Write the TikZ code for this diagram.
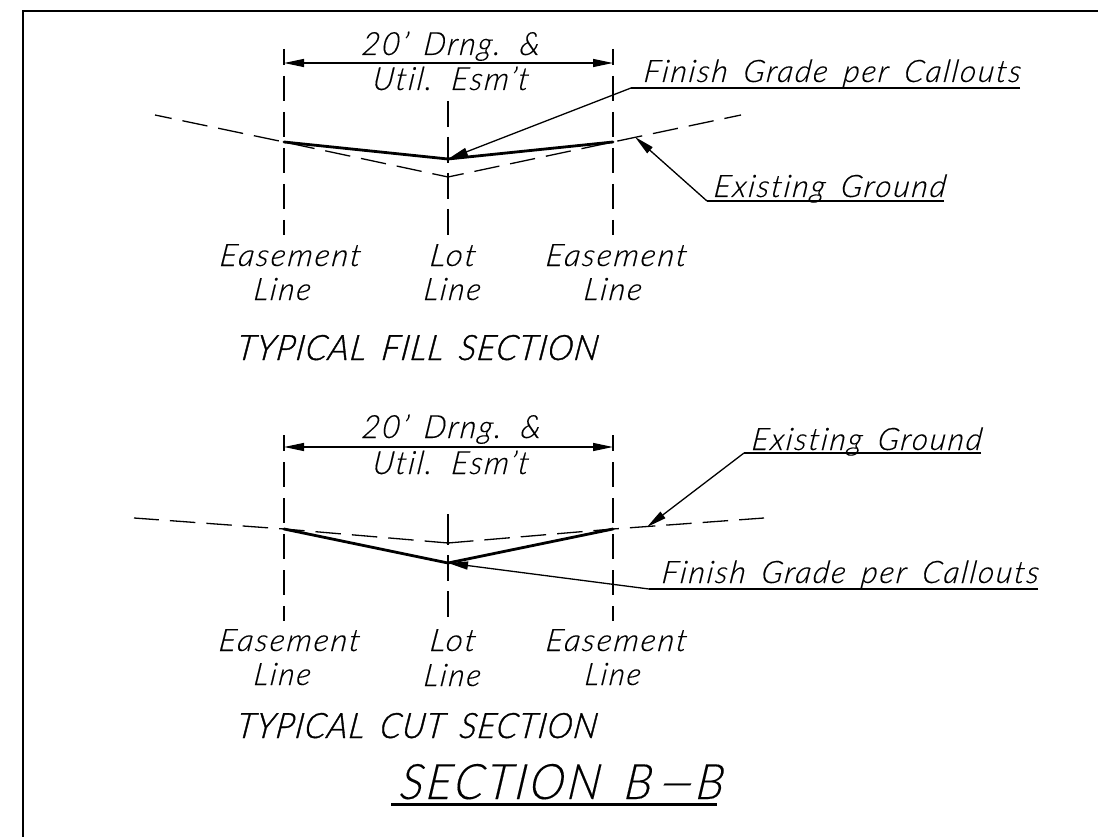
\documentclass[tikz,border=0pt]{standalone}
\usepackage{fontspec}
\setmainfont[LetterSpace=6,WordSpace=1.6,Ligatures=NoCommon,ItalicFeatures={FakeSlant=0.12,FakeBold=0.25}]{Lato Light}
\newfontfamily\cadheavy[LetterSpace=3,WordSpace=1.6,Ligatures=NoCommon,ItalicFeatures={FakeSlant=0.14,FakeBold=1}]{Lato Light}
\usetikzlibrary{arrows.meta}
\tikzset{
  x=1pt,y=-1pt,
  frameline/.style={line width=2.4pt},
  finish/.style={line width=2.8pt,line cap=round,line join=round},
  uline/.style={line width=1.4pt},
  lead/.style={line width=1.3pt,-{Triangle[length=20pt,width=8pt]}},
  dim/.style={line width=1.3pt,{Triangle[length=20pt,width=8pt]}-{Triangle[length=20pt,width=8pt]}},
  gridline/.style={line width=1.3pt,dash pattern=on 25pt off 11pt,dash phase=9pt},
  lotline/.style={line width=2.2pt,dash pattern=on 26pt off 10pt},
  lotsolid/.style={line width=2.2pt},
  ground/.style={line width=1.3pt,dash pattern=on 25.5pt off 11pt},
  groundA/.style={ground,dash phase=8.5pt},
  groundB/.style={ground,dash phase=0.5pt},
  titleunder/.style={line width=3pt},
}
\newcommand{\cadtext}[6]{%
  \pgfmathsetmacro{\cadw}{#3-#2}%
  \node[anchor=base west,inner sep=0pt,outer sep=0pt] (#1) at (#2,#4)
    {\fontsize{#5}{#5}\selectfont\resizebox{\cadw pt}{\height}{\itshape #6}};}
\begin{document}
\begin{tikzpicture}
\useasboundingbox (0,0) rectangle (1098,837);
\coordinate (fbl) at (23,837); \coordinate (ftl) at (23,11); \coordinate (ftr) at (1098,11);
\draw[frameline] (fbl) -- (ftl) -- (ftr);
% ---- fill section
\coordinate (aL0) at (155,115); \coordinate (aL) at (284,142); \coordinate (aCg) at (448,177);
\coordinate (aR) at (613,142); \coordinate (aR0) at (741,115); \coordinate (aC) at (448,159);
\coordinate (aLt) at (284,49); \coordinate (aRt) at (613,49);
\coordinate (aLb) at (284,235); \coordinate (aRb) at (613,235);
\coordinate (aCt) at (448,101); \coordinate (aCb) at (448,235);
\coordinate (aDl) at (284,63); \coordinate (aDr) at (613,63);
\draw[gridline] (aLt) -- (aLb);
\draw[gridline] (aRt) -- (aRb);
\draw[lotline] (aCt) -- (aCb);
\draw[groundA] (aL0) -- (aL) -- (aCg);
\draw[groundA] (aR0) -- (aR) -- (aCg);
\draw[finish] (aL) -- (aC) -- (aR);
\draw[dim] (aDl) -- (aDr);
\coordinate (aF1) at (631,88); \coordinate (aF2) at (1020,88);
\draw[uline] (aF2) -- (aF1);
\draw[lead] (aF1) -- (aC);
\coordinate (aE1) at (707,201); \coordinate (aE2) at (944,201); \coordinate (aE3) at (635,137);
\draw[uline] (aE2) -- (aE1);
\draw[lead] (aE1) -- (aE3);
\cadtext{aT1}{361}{539}{55}{32}{20' Drng. \&}
\cadtext{aT2}{372}{528}{90}{32}{Util. Esm't}
\cadtext{aT3}{643}{1020}{82}{31}{Finish Grade per Callouts}
\cadtext{aT4}{713}{945}{197}{31}{Existing Ground}
\cadtext{aT5}{219}{360}{266}{31}{Easement}
\cadtext{aT6}{253}{310}{300}{31}{Line}
\cadtext{aT7}{429}{475}{266}{31}{Lot}
\cadtext{aT8}{423}{480}{300}{31}{Line}
\cadtext{aT9}{545}{686}{266}{31}{Easement}
\cadtext{aT10}{583}{641}{300}{31}{Line}
\cadtext{aT11}{236}{597}{360}{35}{\cadheavy TYPICAL FILL SECTION}
% ---- cut section
\coordinate (bL0) at (134,518); \coordinate (bL) at (284,529); \coordinate (bCg) at (448,543);
\coordinate (bR) at (613,529); \coordinate (bR0) at (764,518); \coordinate (bC) at (448,563);
\coordinate (bLt) at (284,435); \coordinate (bRt) at (613,435);
\coordinate (bLb) at (284,621); \coordinate (bRb) at (613,621);
\coordinate (bCt) at (448,514); \coordinate (bCm) at (448,545);
\coordinate (bCn) at (448,555); \coordinate (bCb) at (448,621);
\coordinate (bDl) at (284,447); \coordinate (bDr) at (613,447);
\draw[gridline] (bLt) -- (bLb);
\draw[gridline] (bRt) -- (bRb);
\draw[lotsolid] (bCt) -- (bCm);
\draw[lotline] (bCn) -- (bCb);
\draw[groundB] (bL0) -- (bL) -- (bCg);
\draw[groundB] (bR0) -- (bR) -- (bCg);
\draw[finish] (bL) -- (bC) -- (bR);
\draw[dim] (bDl) -- (bDr);
\coordinate (bE1) at (744,453); \coordinate (bE2) at (981,453); \coordinate (bE3) at (647,527);
\draw[uline] (bE2) -- (bE1);
\draw[lead] (bE1) -- (bE3);
\coordinate (bF1) at (649,589); \coordinate (bF2) at (1038,589);
\draw[uline] (bF2) -- (bF1);
\draw[lead] (bF1) -- (bC);
\cadtext{bT1}{361}{540}{438}{32}{20' Drng. \&}
\cadtext{bT2}{372}{528}{474}{32}{Util. Esm't}
\cadtext{bT3}{751}{981}{450}{31}{Existing Ground}
\cadtext{bT4}{661}{1038}{583}{31}{Finish Grade per Callouts}
\cadtext{bT5}{218}{359}{651}{31}{Easement}
\cadtext{bT6}{253}{310}{685}{31}{Line}
\cadtext{bT7}{429}{475}{651}{31}{Lot}
\cadtext{bT8}{423}{480}{686}{31}{Line}
\cadtext{bT9}{545}{686}{651}{31}{Easement}
\cadtext{bT10}{584}{640}{685}{31}{Line}
\cadtext{bT11}{236}{596}{738}{35}{\cadheavy TYPICAL CUT SECTION}
% ---- title
\cadtext{title}{399}{723}{799}{49}{SECTION B\scalebox{2.6}[1]{-}B}
\coordinate (tu1) at (391,804); \coordinate (tu2) at (717,804);
\draw[titleunder] (tu1) -- (tu2);
\end{tikzpicture}
\end{document}
